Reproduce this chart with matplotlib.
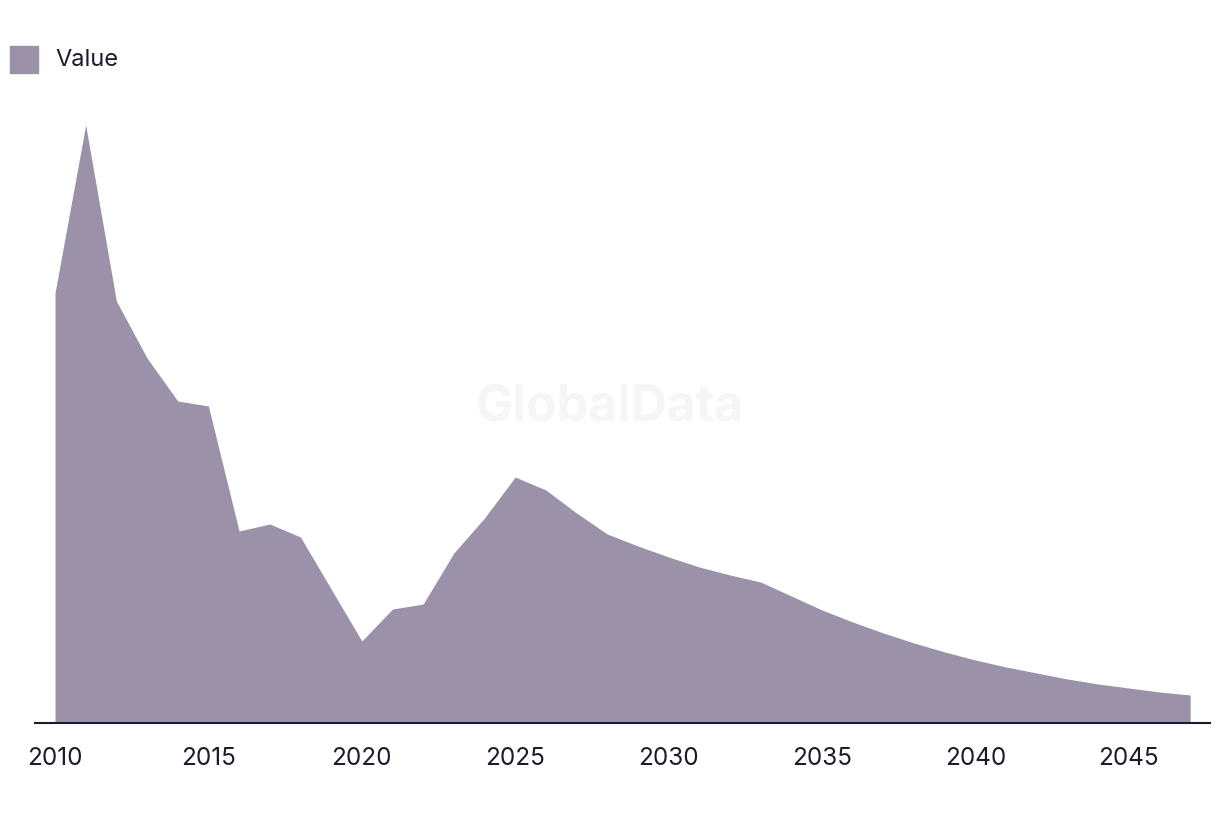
import matplotlib
matplotlib.use("Agg")
import matplotlib.pyplot as plt
from matplotlib.patches import Rectangle

plt.rcParams['font.family'] = ['Inter', 'DejaVu Sans']

# values (arbitrary units, no y axis shown)
years = list(range(2010, 2048))
values = [430, 598, 422, 365, 322, 317, 192, 199, 186, 134, 82, 114,
          119, 170, 205, 246, 233, 210, 189, 177, 166, 156, 148, 141,
          127, 113, 101, 90, 80, 71, 63, 56, 50, 44, 39, 35, 31, 28]
xticks = [2010, 2015, 2020, 2025, 2030, 2035, 2040, 2045]

fill_col = '#9b92aa'
text_col = '#1c1b2e'

fig = plt.figure(figsize=(12.2, 8.16), dpi=100)
ax = fig.add_axes([35 / 1220, 93 / 816, 1175 / 1220, 623 / 816])

ax.fill_between(years, values, 0, color=fill_col, linewidth=0)

ax.set_xlim(2010 - 20 / 30.68, 2010 + 1155 / 30.68)
ax.set_ylim(0, 623)
ax.set_xticks(xticks)
ax.set_xticklabels([str(t) for t in xticks])
ax.set_yticks([])
for s in ['top', 'right', 'left']:
    ax.spines[s].set_visible(False)
ax.spines['bottom'].set_color(text_col)
ax.spines['bottom'].set_linewidth(1.5)
ax.tick_params(axis='x', length=0, pad=17, labelsize=17.5, labelcolor=text_col)

# watermark
fig.text(610 / 1220, 1 - 408 / 816, 'GlobalData', ha='center', va='center',
         fontsize=36, fontweight='bold', color='#f6f6f6', zorder=0)

# legend
fig.patches.append(Rectangle((10 / 1220, 1 - 73 / 816), 28 / 1220, 27 / 816,
                             transform=fig.transFigure, color=fill_col))
fig.text(55 / 1220, 1 - 60 / 816, 'Value', ha='left', va='center',
         fontsize=17, color=text_col)

fig.savefig('out.png', dpi=100)
